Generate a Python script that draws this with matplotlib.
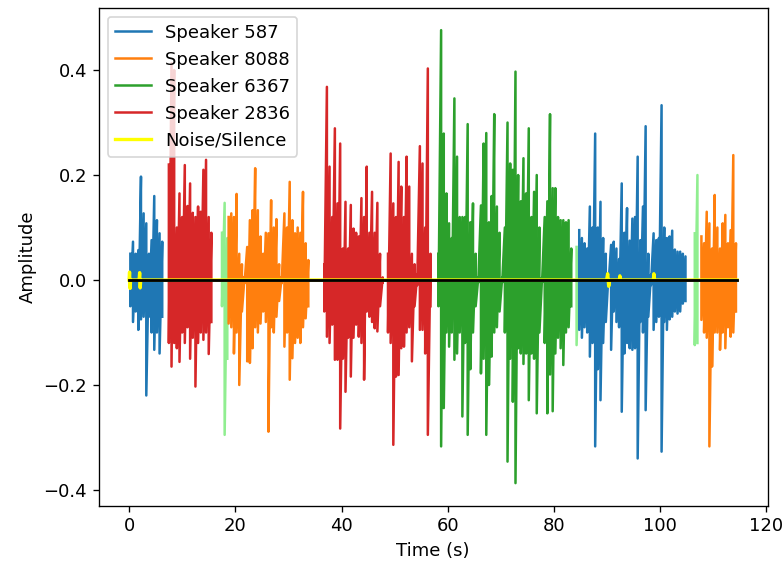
import numpy as np
import matplotlib
matplotlib.use("Agg")
from matplotlib import pyplot as plt

plt.rcParams["font.size"] = 10.8

# waveform peaks per speaker turn: one upper and one lower peak every DT seconds
DT = 0.5
DURATION = 114.5

# Speaker 587
s587_a_t0 = 0.25
s587_a_up = [0.05, 0.073, 0.05, 0.057, 0.197, 0.127, 0.108, 0.05, 0.076, 0.16, 0.114, 0.089, 0.073]
s587_a_lo = [-0.05, -0.08, -0.06, -0.095, -0.075, -0.07, -0.22, -0.07, -0.10, -0.133, -0.1, -0.14, -0.07]
s587_b_t0 = 84.75
s587_b_up = [0.095, 0.08, 0.07, 0.06, 0.14, 0.1, 0.279, 0.1, 0.149, 0.08, 0.05, 0.01, 0.067, 0.073,
             0.06, 0.04, 0.184, 0.09, 0.137, 0.075, 0.117, 0.12, 0.235, 0.076, 0.14, 0.293, 0.05,
             0.01, 0.089, 0.076, 0.08, 0.333, 0.1, 0.08, 0.083, 0.094, 0.058, 0.054, 0.054, 0.05, 0.045]
s587_b_lo = [-0.095, -0.11, -0.09, -0.1, -0.146, -0.12, -0.317, -0.17, -0.229, -0.12, -0.08, -0.01,
             -0.133, -0.06, -0.08, -0.09, -0.251, -0.14, -0.12, -0.13, -0.133, -0.13, -0.34, -0.08,
             -0.1, -0.248, -0.07, -0.01, -0.095, -0.08, -0.07, -0.327, -0.08, -0.095, -0.075, -0.07,
             -0.06, -0.064, -0.06, -0.045, -0.04]

# Speaker 8088
s8088_a_t0 = 18.75
s8088_a_up = [0.12, 0.127, 0.12, 0.164, 0.05, 0.03, 0.006, 0.063, 0.114, 0.133, 0.213, 0.133, 0.083,
              0.05, 0.09, 0.089, 0.152, 0.1, 0.116, 0.03, 0.006, 0.127, 0.1, 0.187, 0.114, 0.089, 0.1,
              0.09, 0.168, 0.07, 0.038]
s8088_a_lo = [-0.083, -0.09, -0.14, -0.1, -0.2, -0.06, -0.006, -0.155, -0.158, -0.13, -0.09, -0.1,
              -0.083, -0.06, -0.08, -0.289, -0.09, -0.1, -0.07, -0.04, -0.006, -0.127, -0.1, -0.19,
              -0.149, -0.12, -0.11, -0.12, -0.09, -0.073, -0.05]
s8088_b_t0 = 107.75
s8088_b_up = [0.083, 0.07, 0.13, 0.108, 0.06, 0.162, 0.1, 0.06, 0.108, 0.124, 0.07, 0.095, 0.238, 0.07]
s8088_b_lo = [-0.076, -0.1, -0.11, -0.317, -0.165, -0.1, -0.1, -0.133, -0.1, -0.13, -0.09, -0.108, -0.1, -0.06]

# Speaker 6367
s6367_a_t0 = 58.25
s6367_a_up = [0.05, 0.476, 0.279, 0.165, 0.108, 0.08, 0.346, 0.235, 0.12, 0.12, 0.12, 0.297, 0.11,
              0.146, 0.05, 0.005, 0.142, 0.26, 0.28, 0.11, 0.16, 0.316, 0.14, 0.09, 0.005, 0.1, 0.3,
              0.222, 0.21, 0.397, 0.2, 0.15, 0.232, 0.165, 0.289, 0.12, 0.168, 0.2, 0.1, 0.005, 0.12,
              0.15, 0.316, 0.175, 0.175, 0.12, 0.114, 0.114, 0.11, 0.114, 0.06]
s6367_a_lo = [-0.05, -0.317, -0.244, -0.1, -0.127, -0.1, -0.152, -0.14, -0.1, -0.26, -0.12, -0.295,
              -0.17, -0.1, -0.05, -0.005, -0.178, -0.15, -0.295, -0.2, -0.146, -0.1, -0.09, -0.06,
              -0.005, -0.1, -0.346, -0.15, -0.232, -0.387, -0.13, -0.14, -0.16, -0.14, -0.229, -0.14,
              -0.15, -0.254, -0.1, -0.005, -0.12, -0.254, -0.18, -0.25, -0.14, -0.11, -0.13, -0.162,
              -0.1, -0.09, -0.05]

# Speaker 2836
s2836_a_t0 = 7.5
s2836_a_up = [0.22, 0.413, 0.40, 0.1, 0.165, 0.12, 0.219, 0.141, 0.184, 0.128, 0.12, 0.14, 0.13,
              0.21, 0.229, 0.12, 0.09]
s2836_a_lo = [-0.12, -0.165, -0.12, -0.13, -0.156, -0.1, -0.12, -0.09, -0.15, -0.11, -0.203, -0.12,
              -0.1, -0.114, -0.1, -0.141, -0.08]
s2836_b_t0 = 36.75
s2836_b_up = [0.03, 0.368, 0.216, 0.12, 0.289, 0.146, 0.26, 0.06, 0.149, 0.06, 0.143, 0.098, 0.09,
              0.083, 0.156, 0.12, 0.216, 0.09, 0.168, 0.09, 0.147, 0.05, 0.005]
s2836_b_lo = [-0.06, -0.108, -0.12, -0.085, -0.152, -0.152, -0.283, -0.15, -0.213, -0.11, -0.184,
              -0.11, -0.085, -0.108, -0.12, -0.19, -0.06, -0.07, -0.08, -0.092, -0.098, -0.05, -0.005]
s2836_c_t0 = 48.75
s2836_c_up = [0.05, 0.241, 0.146, 0.12, 0.225, 0.178, 0.12, 0.235, 0.178, 0.05, 0.03, 0.01, 0.255,
              0.222, 0.1, 0.403, 0.05]
s2836_c_lo = [-0.1, -0.12, -0.314, -0.184, -0.181, -0.13, -0.127, -0.1, -0.09, -0.155, -0.05, -0.01,
              -0.095, -0.095, -0.14, -0.295, -0.05]

# overlapping / unassigned stretches (not in legend)
ovl_a_t0 = 17.5
ovl_a_up = [0.09, 0.147, 0.08]
ovl_a_lo = [-0.05, -0.295, -0.15]
ovl_b_t0 = 84.25
ovl_b_up = [0.063, 0.06]
ovl_b_lo = [-0.124, -0.08]
ovl_c_t0 = 106.5
ovl_c_up = [0.089, 0.2]
ovl_c_lo = [-0.124, -0.12]

# noise / silence track
noise_t = [0.0, 0.1, 0.2, 0.3, 1.9, 2.0, 2.1, 2.2, 89.9, 90.1, 90.3, 90.5,
           92.3, 92.4, 92.5, 98.7, 98.8, 98.9, DURATION]
noise_v = [0.0, 0.015, -0.016, 0.0, 0.0, 0.014, -0.015, 0.0, 0.0, 0.012, -0.012, 0.0,
           0.0, 0.008, 0.0, 0.0, 0.012, 0.0, 0.0]


def draw_segment(ax, t0, up, lo, color, label=None):
    t = t0 + DT * np.arange(len(up))
    y = np.column_stack([up, lo]).ravel()
    ax.plot(np.repeat(t, 2), y, color=color, lw=1.5, label=label)


fig = plt.figure(figsize=(782 / 120, 565 / 120), dpi=120)
ax = fig.add_axes([0.1261, 0.1048, 0.8556, 0.8819])

for t0, up, lo in [(ovl_a_t0, ovl_a_up, ovl_a_lo), (ovl_b_t0, ovl_b_up, ovl_b_lo),
                   (ovl_c_t0, ovl_c_up, ovl_c_lo)]:
    draw_segment(ax, t0, up, lo, "lightgreen")

speakers = [
    ("Speaker 587", "tab:blue", [(s587_a_t0, s587_a_up, s587_a_lo), (s587_b_t0, s587_b_up, s587_b_lo)]),
    ("Speaker 8088", "tab:orange", [(s8088_a_t0, s8088_a_up, s8088_a_lo), (s8088_b_t0, s8088_b_up, s8088_b_lo)]),
    ("Speaker 6367", "tab:green", [(s6367_a_t0, s6367_a_up, s6367_a_lo)]),
    ("Speaker 2836", "tab:red", [(s2836_a_t0, s2836_a_up, s2836_a_lo), (s2836_b_t0, s2836_b_up, s2836_b_lo),
                                 (s2836_c_t0, s2836_c_up, s2836_c_lo)]),
]
for name, color, segs in speakers:
    for i, (t0, up, lo) in enumerate(segs):
        draw_segment(ax, t0, up, lo, color, label=name if i == 0 else None)

ax.plot(noise_t, noise_v, color="yellow", lw=2, label="Noise/Silence")
ax.plot([0, DURATION], [0, 0], color="black", lw=1.7)

ax.set_xlabel("Time (s)")
ax.set_ylabel("Amplitude")
ax.legend(loc="upper left")

fig.savefig("out.png", dpi=120)
